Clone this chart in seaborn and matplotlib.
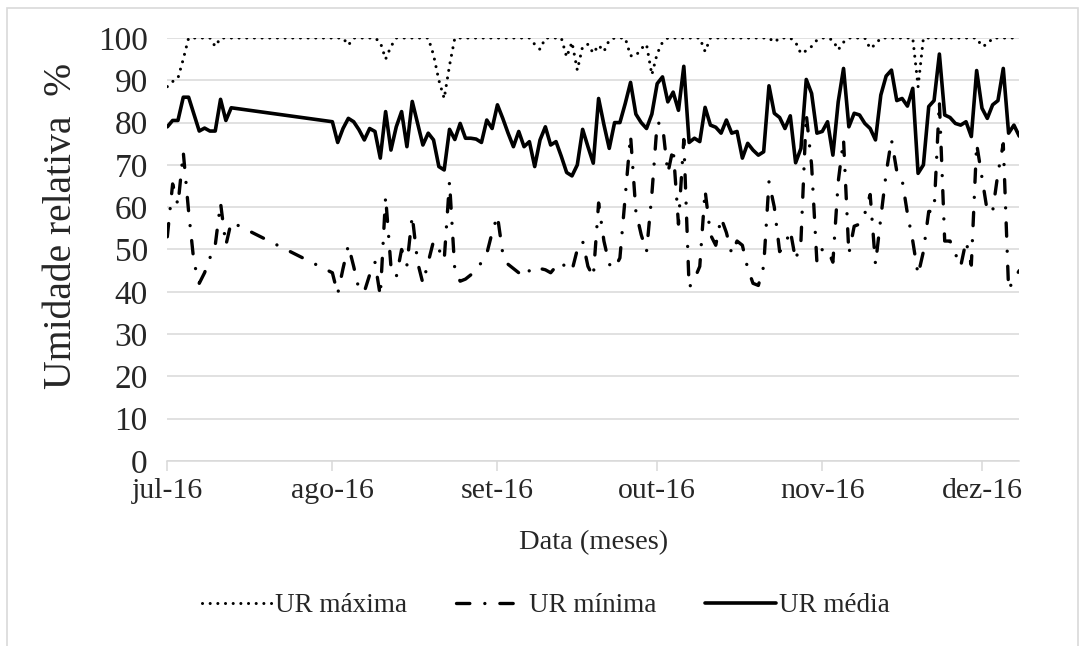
import pandas as pd
import numpy as np
import matplotlib
matplotlib.use("Agg")
import matplotlib.pyplot as plt
import seaborn as sns
from matplotlib.patches import Rectangle

# daily readings: 1-13 Jul 2016, then 1 Aug - 8 Dec 2016 (no data in between)
jul_days = pd.date_range("2016-07-01", "2016-07-13")
rest_days = pd.date_range("2016-08-01", "2016-12-08")

ur_max = [
    88.5, 89.7, 90.5, 95, 100, 100, 100, 100, 100, 98, 100, 100, 100,
    100, 100, 100, 98.3, 100, 100, 100, 100, 100, 99,
    95, 98, 100, 100, 100, 100, 100, 100, 100, 96,
    90, 85.7, 93.5, 100, 100, 100, 100, 100, 100, 100,
    100, 100, 100, 100, 100, 100, 100, 100, 98.5, 97.3,
    100, 100, 100, 100, 95.5, 99, 92.4, 98, 98.5, 96.4,
    98.3, 96.8, 99.5, 100, 100, 100, 95.8, 95.8, 97.5, 98.5,
    91.3, 96.3, 99, 100, 100, 100, 100, 100, 100, 100,
    96.8, 100, 100, 100, 100, 100, 100, 100, 100, 100,
    100, 100, 100, 99, 100, 100, 100, 99, 96.3, 97,
    98, 99.5, 100, 100, 99.5, 97.2, 99, 100, 100, 100,
    100, 97.5, 98.5, 100, 100, 100, 100, 100, 100, 100,
    88.5, 100, 100, 100, 100, 100, 100, 100, 100, 100,
    100, 100, 98, 98.5, 100, 100, 100, 100, 100, 100,
]

ur_min = [
    53, 65.5, 60.5, 73, 59, 47, 42, 44.5, 48, 51, 61, 51, 56.5,
    44.5, 39.5, 45.5, 51, 46, 40.5, 40, 44, 47, 39,
    62.5, 46, 43.5, 50, 46.3, 58, 47, 42, 47, 52,
    50, 47.5, 66, 45, 42.5, 43, 44, 45, 47, 49,
    54, 58, 49, 46.5, 45.5, 44.5, 43.5, 45, 46, 45.5,
    45.2, 44.5, 46, 47, 45.5, 45, 50, 52, 46, 43.5,
    61, 52, 46.5, 45.5, 48, 62.5, 77, 59, 53.5, 49.5,
    63, 80, 79.5, 68, 74, 56, 76, 41, 43, 46,
    64, 53.5, 51, 57.5, 54, 49, 52, 51, 45.5, 42,
    41.5, 46, 66, 60, 49.5, 51, 54.5, 47.5, 52, 82,
    70, 47, 50, 50, 47, 66, 76, 49, 55.5, 56,
    58.5, 63, 46.5, 57.5, 68, 76, 68.5, 66.5, 58.5, 52,
    44, 49.5, 59, 59, 85, 52, 52, 49, 46, 52,
    46.3, 75, 67, 59, 59, 68, 75, 40.5, 43, 45,
]

ur_med = [
    79, 80.5, 80.5, 86, 86, 82, 78, 78.7, 78, 78, 85.5, 80.5, 83.5,
    80.2, 75.3, 78.6, 81, 80.2, 78.3, 75.9, 78.6, 77.9, 71.6,
    82.6, 73.5, 79, 82.6, 74.3, 85, 79.8, 74.7, 77.5, 75.9,
    69.6, 68.8, 78.4, 76, 79.8, 76.3, 76.3, 76.1, 75.3, 80.6,
    78.6, 84.2, 81, 77.5, 74.3, 77.9, 74.3, 75.5, 69.6, 75.9,
    79, 74.7, 75.5, 72, 68.2, 67.4, 70, 78.4, 74.3, 70.4,
    85.7, 79.5, 73.9, 80, 80, 84.5, 89.5, 82, 80, 78.6,
    82, 89.2, 90.8, 84.9, 87.2, 82.9, 93.3, 75.3, 76.3, 75.5,
    83.6, 79.4, 78.9, 77.5, 80.6, 77.5, 77.9, 71.6, 75.1, 73.5,
    72.3, 73.1, 88.7, 82.2, 81.2, 78.6, 81.6, 70.5, 73.9, 90.2,
    86.9, 77.5, 77.9, 80.2, 72.3, 84.9, 92.8, 79, 82.2, 81.8,
    79.8, 78.6, 75.9, 86.5, 91, 92.4, 85.2, 85.7, 83.9, 88.1,
    68, 70, 83.8, 85.2, 96.2, 81.8, 81.2, 79.8, 79.4, 80.2,
    76.7, 92.3, 83.4, 81, 84.2, 85.2, 92.8, 77.5, 79.4, 76.8,
]

month_ticks = ["2016-07-01", "2016-08-01", "2016-09-01", "2016-10-01", "2016-11-01", "2016-12-01"]
month_labels = ["jul-16", "ago-16", "set-16", "out-16", "nov-16", "dez-16"]
y_ticks = [0, 10, 20, 30, 40, 50, 60, 70, 80, 90, 100]

df = pd.DataFrame({
    "data": jul_days.append(rest_days),
    "max": ur_max,
    "min": ur_min,
    "med": ur_med,
})

sns.set_theme(style="white")
plt.rcParams["font.family"] = ["Liberation Serif", "DejaVu Serif"]

grid_c = "#d9d9d9"
fig = plt.figure(figsize=(10.85, 6.46), dpi=100)
ax = fig.add_axes([0.1542, 0.2864, 0.7852, 0.6548])

lw = 2.2
sns.lineplot(data=df, x="data", y="max", ax=ax, color="black", lw=lw,
             ls=(0, (0.01, 2.5)), dash_capstyle="round", label="UR máxima")
sns.lineplot(data=df, x="data", y="min", ax=ax, color="black", lw=lw + 0.2,
             ls=(0, (4, 4.5, 0.01, 4.5)), dash_capstyle="round", label="UR mínima")
sns.lineplot(data=df, x="data", y="med", ax=ax, color="black", lw=lw + 0.4,
             ls="-", label="UR média")

ax.set_ylim(0, 100)
ax.set_xlim(df["data"].iloc[0], df["data"].iloc[-1])
ax.set_yticks(y_ticks)
ax.set_xticks(pd.to_datetime(month_ticks))
ax.set_xticklabels(month_labels)
ax.grid(axis="y", color=grid_c, lw=1.1)
ax.grid(axis="x", visible=False)
for s in ["left", "top", "right"]:
    ax.spines[s].set_visible(False)
ax.spines["bottom"].set_color(grid_c)
ax.spines["bottom"].set_linewidth(1.1)
ax.tick_params(axis="x", direction="out", length=7, width=1.1, color=grid_c,
               labelsize=21.5, pad=5, bottom=True)
ax.tick_params(axis="y", length=0, labelsize=24, pad=14)

ax.set_xlabel("Data (meses)", fontsize=20.5, labelpad=19)
ax.set_ylabel("Umidade relativa  %", fontsize=28.5)
ax.yaxis.set_label_coords(-0.103, 0.556)

handles, labels = ax.get_legend_handles_labels()
ax.get_legend().remove()
fig.legend(handles, labels, loc="center", bbox_to_anchor=(0.503, 0.062), ncol=3,
           frameon=False, fontsize=19.5, handlelength=2.6, handletextpad=0.1,
           columnspacing=1.8)

fig.add_artist(Rectangle((0.006, -0.01), 0.988, 0.998, transform=fig.transFigure,
                         fill=False, edgecolor=grid_c, lw=1.2))

fig.savefig("out.png", dpi=100)
